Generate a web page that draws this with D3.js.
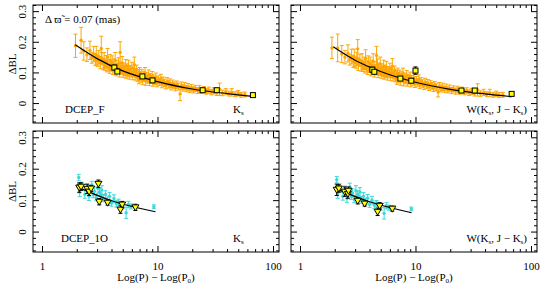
<!DOCTYPE html>
<html>
<head>
<meta charset="utf-8">
<script src="https://cdn.jsdelivr.net/npm/d3@7"></script>
<style>
  body { margin: 0; background: #fff; }
  text { font-family: "Liberation Serif", "DejaVu Serif", serif; fill: #000; }
</style>
</head>
<body>
<div id="chart"></div>
<script>
// axis values
const xDomain = [0.836, 112.7]
const yDomain = [-0.065, 0.32]
const xMajor = [1, 10, 100]
const xMinor = [2, 3, 4, 5, 6, 7, 8, 9, 20, 30, 40, 50, 60, 70, 80, 90]
const yMajor = [0, 0.1, 0.2, 0.3]
const yMinor = [-0.06, -0.04, -0.02, 0.02, 0.04, 0.06, 0.08, 0.12, 0.14, 0.16, 0.18, 0.22, 0.24, 0.26, 0.28, 0.32]

// DCEP_F, Ks : [P - P0, dBL, err]
const fundKs = [
  [1.95,0.187,0.038],[2.18,0.205,0.042],[2.3,0.17,0.03],[2.45,0.158,0.022],[2.6,0.172,0.03],
  [2.7,0.148,0.018],[2.8,0.16,0.025],[2.9,0.142,0.02],[2.95,0.155,0.03],[3.05,0.138,0.018],
  [3.1,0.15,0.022],[3.2,0.132,0.02],[3.26,0.178,0.04],[3.3,0.145,0.02],[3.4,0.128,0.018],
  [3.45,0.14,0.025],[3.5,0.122,0.015],[3.6,0.135,0.02],[3.65,0.118,0.016],[3.7,0.15,0.028],
  [3.8,0.125,0.018],[3.85,0.112,0.015],[3.9,0.138,0.02],[4.0,0.12,0.016],[4.05,0.132,0.022],
  [4.1,0.108,0.015],[4.2,0.126,0.018],[4.25,0.115,0.014],[4.3,0.14,0.025],[4.4,0.104,0.015],
  [4.45,0.122,0.018],[4.55,0.11,0.014],[4.6,0.128,0.02],[4.7,0.1,0.015],[4.75,0.165,0.035],
  [4.8,0.118,0.016],[4.9,0.108,0.014],[4.95,0.13,0.022],[5.05,0.098,0.014],[5.1,0.115,0.016],
  [5.2,0.105,0.015],[5.3,0.122,0.02],[5.35,0.095,0.014],[5.45,0.112,0.016],[5.5,0.1,0.014],
  [5.6,0.12,0.02],[5.7,0.092,0.014],[5.8,0.108,0.015],[5.9,0.098,0.013],[6.0,0.115,0.018],
  [6.1,0.09,0.014],[6.2,0.102,0.015],[6.3,0.125,0.025],[6.4,0.088,0.013],[6.5,0.098,0.014],
  [6.6,0.108,0.016],[6.7,0.084,0.013],[6.8,0.095,0.014],[6.9,0.078,0.015],[7.0,0.1,0.016],
  [7.1,0.088,0.013],[7.2,0.082,0.014],[7.3,0.095,0.015],[7.45,0.076,0.016],[7.6,0.09,0.014],
  [7.7,0.084,0.013],[7.8,0.098,0.018],[7.9,0.072,0.014],[8.1,0.086,0.014],[8.2,0.078,0.013],
  [8.4,0.092,0.016],[8.5,0.07,0.013],[8.7,0.082,0.014],[8.8,0.076,0.012],[9.0,0.088,0.015],
  [9.1,0.068,0.013],[9.3,0.079,0.013],[9.5,0.072,0.012],[9.7,0.084,0.014],[9.9,0.065,0.012],
  [10.2,0.076,0.013],[10.4,0.069,0.012],[10.7,0.08,0.014],[10.9,0.062,0.012],[11.2,0.072,0.013],
  [11.5,0.066,0.012],[11.8,0.058,0.012],[12.1,0.07,0.013],[12.4,0.061,0.012],[12.8,0.066,0.013],
  [13.1,0.055,0.012],[13.5,0.063,0.012],[13.9,0.058,0.011],[14.3,0.052,0.012],[14.7,0.06,0.012],
  [15.2,0.054,0.011],[15.7,0.03,0.022],[16.1,0.057,0.012],[16.6,0.05,0.011],[17.2,0.055,0.012],
  [17.8,0.047,0.01],[18.4,0.053,0.011],[19.0,0.045,0.01],[19.7,0.05,0.011],[20.5,0.043,0.01],
  [21.3,0.048,0.01],[22.2,0.041,0.01],[23.1,0.046,0.011],[24.2,0.04,0.009],[25.3,0.044,0.01],
  [26.5,0.038,0.009],[27.8,0.042,0.01],[29.2,0.036,0.009],[30.6,0.04,0.01],[32.5,0.034,0.009],
  [34.5,0.045,0.02],[36.5,0.033,0.009],[39.0,0.037,0.01],[41.5,0.031,0.008],[44.0,0.035,0.012],
  [47.0,0.029,0.008],[50.0,0.032,0.009],[53.0,0.027,0.008],[57.0,0.028,0.008]
]

// DCEP_F, W(Ks, J-Ks)
const fundW = [
  [1.89,0.18,0.035],[2.12,0.18,0.045],[2.3,0.16,0.028],[2.45,0.15,0.022],[2.6,0.162,0.028],
  [2.7,0.142,0.018],[2.8,0.152,0.024],[2.9,0.136,0.02],[2.95,0.148,0.028],[3.05,0.132,0.018],
  [3.1,0.144,0.022],[3.16,0.177,0.03],[3.2,0.126,0.02],[3.3,0.14,0.02],[3.4,0.122,0.018],
  [3.45,0.136,0.025],[3.5,0.118,0.015],[3.6,0.13,0.02],[3.65,0.114,0.016],[3.7,0.146,0.028],
  [3.8,0.12,0.018],[3.85,0.108,0.015],[3.9,0.134,0.02],[4.0,0.116,0.016],[4.05,0.128,0.022],
  [4.1,0.104,0.015],[4.2,0.122,0.018],[4.25,0.11,0.014],[4.3,0.136,0.025],[4.4,0.1,0.015],
  [4.45,0.118,0.018],[4.55,0.106,0.014],[4.6,0.155,0.03],[4.7,0.124,0.02],[4.75,0.098,0.015],
  [4.8,0.114,0.016],[4.9,0.104,0.014],[4.95,0.128,0.022],[5.05,0.095,0.014],[5.1,0.112,0.016],
  [5.2,0.102,0.015],[5.3,0.12,0.02],[5.35,0.092,0.014],[5.45,0.108,0.016],[5.5,0.097,0.014],
  [5.6,0.116,0.02],[5.7,0.089,0.014],[5.8,0.104,0.015],[5.9,0.095,0.013],[6.0,0.112,0.018],
  [6.1,0.087,0.014],[6.2,0.1,0.015],[6.3,0.12,0.025],[6.4,0.085,0.013],[6.5,0.096,0.014],
  [6.6,0.105,0.016],[6.7,0.082,0.013],[6.8,0.093,0.014],[6.9,0.076,0.015],[7.0,0.098,0.016],
  [7.1,0.086,0.013],[7.2,0.08,0.014],[7.3,0.093,0.015],[7.45,0.074,0.016],[7.6,0.088,0.014],
  [7.7,0.082,0.013],[7.8,0.096,0.018],[7.9,0.07,0.014],[8.1,0.084,0.014],[8.2,0.076,0.013],
  [8.4,0.09,0.016],[8.5,0.068,0.013],[8.7,0.08,0.014],[8.8,0.074,0.012],[9.0,0.086,0.015],
  [9.1,0.066,0.013],[9.3,0.077,0.013],[9.5,0.07,0.012],[9.7,0.082,0.014],[9.9,0.063,0.012],
  [10.2,0.074,0.013],[10.4,0.067,0.012],[10.7,0.078,0.014],[10.9,0.06,0.012],[11.2,0.07,0.013],
  [11.5,0.064,0.012],[11.8,0.056,0.012],[12.1,0.068,0.013],[12.4,0.059,0.012],[12.8,0.064,0.013],
  [13.1,0.053,0.012],[13.5,0.061,0.012],[13.9,0.056,0.011],[14.3,0.05,0.012],[14.7,0.058,0.012],
  [15.2,0.052,0.011],[15.7,0.036,0.016],[16.1,0.055,0.012],[16.6,0.048,0.011],[17.2,0.053,0.012],
  [17.8,0.045,0.01],[18.4,0.051,0.011],[19.0,0.043,0.01],[19.7,0.048,0.011],[20.5,0.041,0.01],
  [21.3,0.046,0.01],[22.2,0.039,0.01],[23.1,0.044,0.011],[24.2,0.038,0.009],[25.3,0.042,0.01],
  [26.5,0.036,0.009],[27.8,0.04,0.01],[29.2,0.034,0.009],[30.6,0.038,0.01],[32.5,0.032,0.009],
  [34.5,0.043,0.02],[36.5,0.031,0.009],[39.0,0.035,0.01],[41.5,0.029,0.008],[44.0,0.033,0.012],
  [47.0,0.027,0.008],[50.0,0.03,0.009],[53.0,0.026,0.008],[57.0,0.027,0.008]
]

// binned means (yellow squares)
const fundKsBins = [[4.23,0.116,0.008],[4.49,0.103,0.006],[7.4,0.087,0.006],[9.05,0.074,0.006],[24.6,0.042,0.004],[32.6,0.042,0.004],[67,0.026,0.003]]
const fundWBins = [[4.23,0.109,0.008],[4.4,0.102,0.006],[7.4,0.08,0.005],[9.2,0.073,0.006],[10,0.106,0.012],[25,0.041,0.004],[32.6,0.041,0.004],[68,0.03,0.003]]

// fitted relations
const fundKsFit = [[1.94,0.19],[3,0.145],[5,0.105],[10,0.07],[20,0.046],[40,0.031],[67,0.022]]
const fundWFit = [[1.94,0.184],[3,0.14],[5,0.103],[10,0.068],[20,0.045],[40,0.03],[68,0.021]]

// DCEP_1O
const foKs = [
  [2.08,0.172,0.01],[2.12,0.125,0.014],[2.2,0.145,0.012],[2.35,0.118,0.012],[2.45,0.135,0.015],
  [2.55,0.112,0.013],[2.7,0.148,0.012],[2.78,0.118,0.01],[2.85,0.128,0.014],[2.95,0.108,0.01],
  [3.05,0.138,0.016],[3.15,0.125,0.012],[3.22,0.112,0.01],[3.3,0.132,0.014],[3.4,0.105,0.01],
  [3.55,0.118,0.012],[3.7,0.1,0.01],[3.85,0.112,0.012],[4.0,0.09,0.009],[4.2,0.105,0.012],
  [4.4,0.088,0.01],[4.6,0.094,0.009],[5.0,0.082,0.01],[5.35,0.06,0.018],[5.6,0.086,0.01],
  [5.9,0.08,0.008],[9.3,0.079,0.006]
]
const foW = [
  [2.08,0.165,0.01],[2.12,0.12,0.014],[2.2,0.14,0.012],[2.35,0.112,0.012],[2.45,0.13,0.015],
  [2.55,0.106,0.013],[2.7,0.142,0.012],[2.78,0.112,0.01],[2.85,0.122,0.014],[2.95,0.102,0.01],
  [3.05,0.13,0.016],[3.15,0.118,0.012],[3.22,0.106,0.01],[3.3,0.126,0.014],[3.4,0.1,0.01],
  [3.55,0.112,0.012],[3.7,0.095,0.01],[3.85,0.106,0.012],[4.0,0.086,0.009],[4.2,0.1,0.012],
  [4.4,0.084,0.01],[4.6,0.09,0.009],[5.0,0.078,0.01],[5.35,0.058,0.018],[5.6,0.082,0.01],
  [5.9,0.076,0.008],[9.2,0.072,0.006]
]
const foKsBins = [[2.1,0.14,0.015],[2.18,0.143,0.012],[2.46,0.136,0.015],[2.56,0.127,0.012],[2.66,0.137,0.01],[3.08,0.152,0.012],[3.13,0.095,0.01],[3.7,0.092,0.008],[4.78,0.07,0.012],[4.95,0.086,0.01],[6.44,0.077,0.01]]
const foWBins = [[2.08,0.133,0.018],[2.17,0.137,0.012],[2.44,0.127,0.015],[2.6,0.12,0.014],[2.63,0.13,0.012],[3.16,0.098,0.01],[3.63,0.089,0.008],[4.7,0.063,0.012],[4.9,0.082,0.01],[6.3,0.073,0.008]]
const foKsFit = [[2.0,0.143],[4,0.098],[9.6,0.063]]
const foWFit = [[2.08,0.135],[4,0.095],[9.25,0.06]]

const width = 545
const height = 286
const cols = [[33, 279], [291, 537]]
const rows = [[5, 123], [131, 252]]

const svg = d3.select('#chart').append('svg')
  .attr('width', width)
  .attr('height', height)

const fmtY = d => d === 0 ? '0' : d3.format('.1f')(d)

function errorBars(g, data, x, y, color, cap) {
  const eb = g.append('g').attr('stroke', color).attr('stroke-width', 1).attr('fill', 'none')
  data.forEach(d => {
    const cx = x(d[0]), top = y(d[1] + d[2]), bot = y(d[1] - d[2])
    eb.append('line').attr('x1', cx).attr('x2', cx).attr('y1', top).attr('y2', bot)
    eb.append('line').attr('x1', cx - cap).attr('x2', cx + cap).attr('y1', top).attr('y2', top)
    eb.append('line').attr('x1', cx - cap).attr('x2', cx + cap).attr('y1', bot).attr('y2', bot)
  })
}

function panel(c, r, opt) {
  const x = d3.scaleLog().domain(xDomain).range(cols[c])
  const y = d3.scaleLinear().domain(yDomain).range([rows[r][1], rows[r][0]])
  const g = svg.append('g')
  const x0 = cols[c][0], x1 = cols[c][1], y0 = rows[r][0], y1 = rows[r][1]

  const clip = 'clip' + c + r
  g.append('clipPath').attr('id', clip).append('rect')
    .attr('x', x0).attr('y', y0).attr('width', x1 - x0).attr('height', y1 - y0)
  const plot = g.append('g').attr('clip-path', 'url(#' + clip + ')')

  // cloud of stars
  errorBars(plot, opt.stars, x, y, opt.color, 2)
  plot.append('g').selectAll('circle').data(opt.stars).join('circle')
    .attr('cx', d => x(d[0])).attr('cy', d => y(d[1])).attr('r', 1.7)
    .attr('fill', opt.color)

  // fit
  plot.append('path').datum(opt.fit)
    .attr('fill', 'none').attr('stroke', '#000').attr('stroke-width', 1.2)
    .attr('d', d3.line().x(d => x(d[0])).y(d => y(d[1])).curve(d3.curveMonotoneX))

  // binned means
  errorBars(plot, opt.bins, x, y, '#000', 2)
  if (opt.square) {
    plot.append('g').selectAll('rect').data(opt.bins).join('rect')
      .attr('x', d => x(d[0]) - 2.5).attr('y', d => y(d[1]) - 2.5)
      .attr('width', 5).attr('height', 5)
      .attr('fill', '#ffff00').attr('stroke', '#000').attr('stroke-width', 1)
  } else {
    plot.append('g').selectAll('path').data(opt.bins).join('path')
      .attr('d', d => {
        const px = x(d[0]), py = y(d[1])
        return `M${px - 3.5},${py - 2.5}L${px + 3.5},${py - 2.5}L${px},${py + 3.5}Z`
      })
      .attr('fill', '#ffff00').attr('stroke', '#000').attr('stroke-width', 1)
  }

  // minor ticks on all four sides, pointing in
  const minors = [
    [d3.axisBottom(x), 0, y1, xMinor], [d3.axisTop(x), 0, y0, xMinor],
    [d3.axisLeft(y), x0, 0, yMinor], [d3.axisRight(y), x1, 0, yMinor]
  ]
  minors.forEach(([ax, tx, ty, vals]) => {
    g.append('g').attr('transform', `translate(${tx},${ty})`)
      .call(ax.tickValues(vals).tickSize(-3).tickFormat(''))
  })
  // major ticks
  const bx = g.append('g').attr('transform', `translate(0,${y1})`)
    .call(d3.axisBottom(x).tickValues(xMajor).tickSize(-6).tickPadding(10)
      .tickFormat(opt.xLabels ? d3.format('d') : ''))
  g.append('g').attr('transform', `translate(0,${y0})`)
    .call(d3.axisTop(x).tickValues(xMajor).tickSize(-6).tickFormat(''))
  const ly = g.append('g').attr('transform', `translate(${x0},0)`)
    .call(d3.axisLeft(y).tickValues(yMajor).tickSize(-6).tickFormat(opt.yLabels ? fmtY : ''))
  g.append('g').attr('transform', `translate(${x1},0)`)
    .call(d3.axisRight(y).tickValues(yMajor).tickSize(-6).tickFormat(''))
  g.selectAll('.domain').remove()
  g.selectAll('.tick line').attr('stroke', '#000')
  bx.selectAll('text').attr('font-size', 11).attr('font-family', 'Liberation Serif')
  ly.selectAll('text')
    .attr('font-size', 11).attr('font-family', 'Liberation Serif')
    .attr('x', null).attr('dy', null)
    .attr('text-anchor', 'middle')
    .attr('transform', 'translate(-7,0) rotate(-90)')

  // frame
  g.append('rect').attr('x', x0).attr('y', y0).attr('width', x1 - x0).attr('height', y1 - y0)
    .attr('fill', 'none').attr('stroke', '#000').attr('stroke-width', 1)

  // labels in the box
  const t = g.append('g').attr('font-size', 11)
  if (opt.name) {
    t.append('text').attr('x', x0 + opt.nameDx).attr('y', y1 - 10).text(opt.name)
  }
  if (opt.band === 'K') {
    const k = t.append('text').attr('x', x0 + 200).attr('y', y1 - 10)
    k.append('tspan').text('K')
    k.append('tspan').attr('font-size', 7).attr('dy', 2).text('s')
  } else {
    const w = t.append('text').attr('x', x1 - 10).attr('y', y1 - 10).attr('text-anchor', 'end')
    w.append('tspan').text('W(K')
    w.append('tspan').attr('font-size', 7).attr('dy', 2).text('s')
    w.append('tspan').attr('dy', -2).text(', J \u2212 K')
    w.append('tspan').attr('font-size', 7).attr('dy', 2).text('s')
    w.append('tspan').attr('dy', -2).text(')')
  }
  if (opt.yLabels) {
    g.append('text').attr('font-size', 11).attr('text-anchor', 'middle')
      .attr('transform', `translate(16,${(y0 + y1) / 2}) rotate(-90)`)
      .text('\u0394BL')
  }
  if (opt.xLabels) {
    const xl = g.append('text').attr('font-size', 11).attr('text-anchor', 'middle')
      .attr('x', (x0 + x1) / 2).attr('y', 281)
    xl.append('tspan').text('Log(P) \u2212 Log(P')
    xl.append('tspan').attr('font-size', 7).attr('dy', 2).text('0')
    xl.append('tspan').attr('dy', -2).text(')')
  }
  return g
}

const tl = panel(0, 0, { stars: fundKs, bins: fundKsBins, fit: fundKsFit, color: '#ffa500', square: true,
  name: 'DCEP_F', nameDx: 32, band: 'K', yLabels: true, xLabels: false })
panel(1, 0, { stars: fundW, bins: fundWBins, fit: fundWFit, color: '#ffa500', square: true,
  band: 'W', yLabels: false, xLabels: false })
panel(0, 1, { stars: foKs, bins: foKsBins, fit: foKsFit, color: '#3cd8d8', square: false,
  name: 'DCEP_1O', nameDx: 28, band: 'K', yLabels: true, xLabels: true })
panel(1, 1, { stars: foW, bins: foWBins, fit: foWFit, color: '#3cd8d8', square: false,
  band: 'W', yLabels: false, xLabels: true })

// parallax offset note
const note = tl.append('text').attr('font-size', 11).attr('x', 45).attr('y', 23)
note.append('tspan').text('\u0394 \u03d6\u0303 = 0.07 (mas)')
</script>
</body>
</html>
